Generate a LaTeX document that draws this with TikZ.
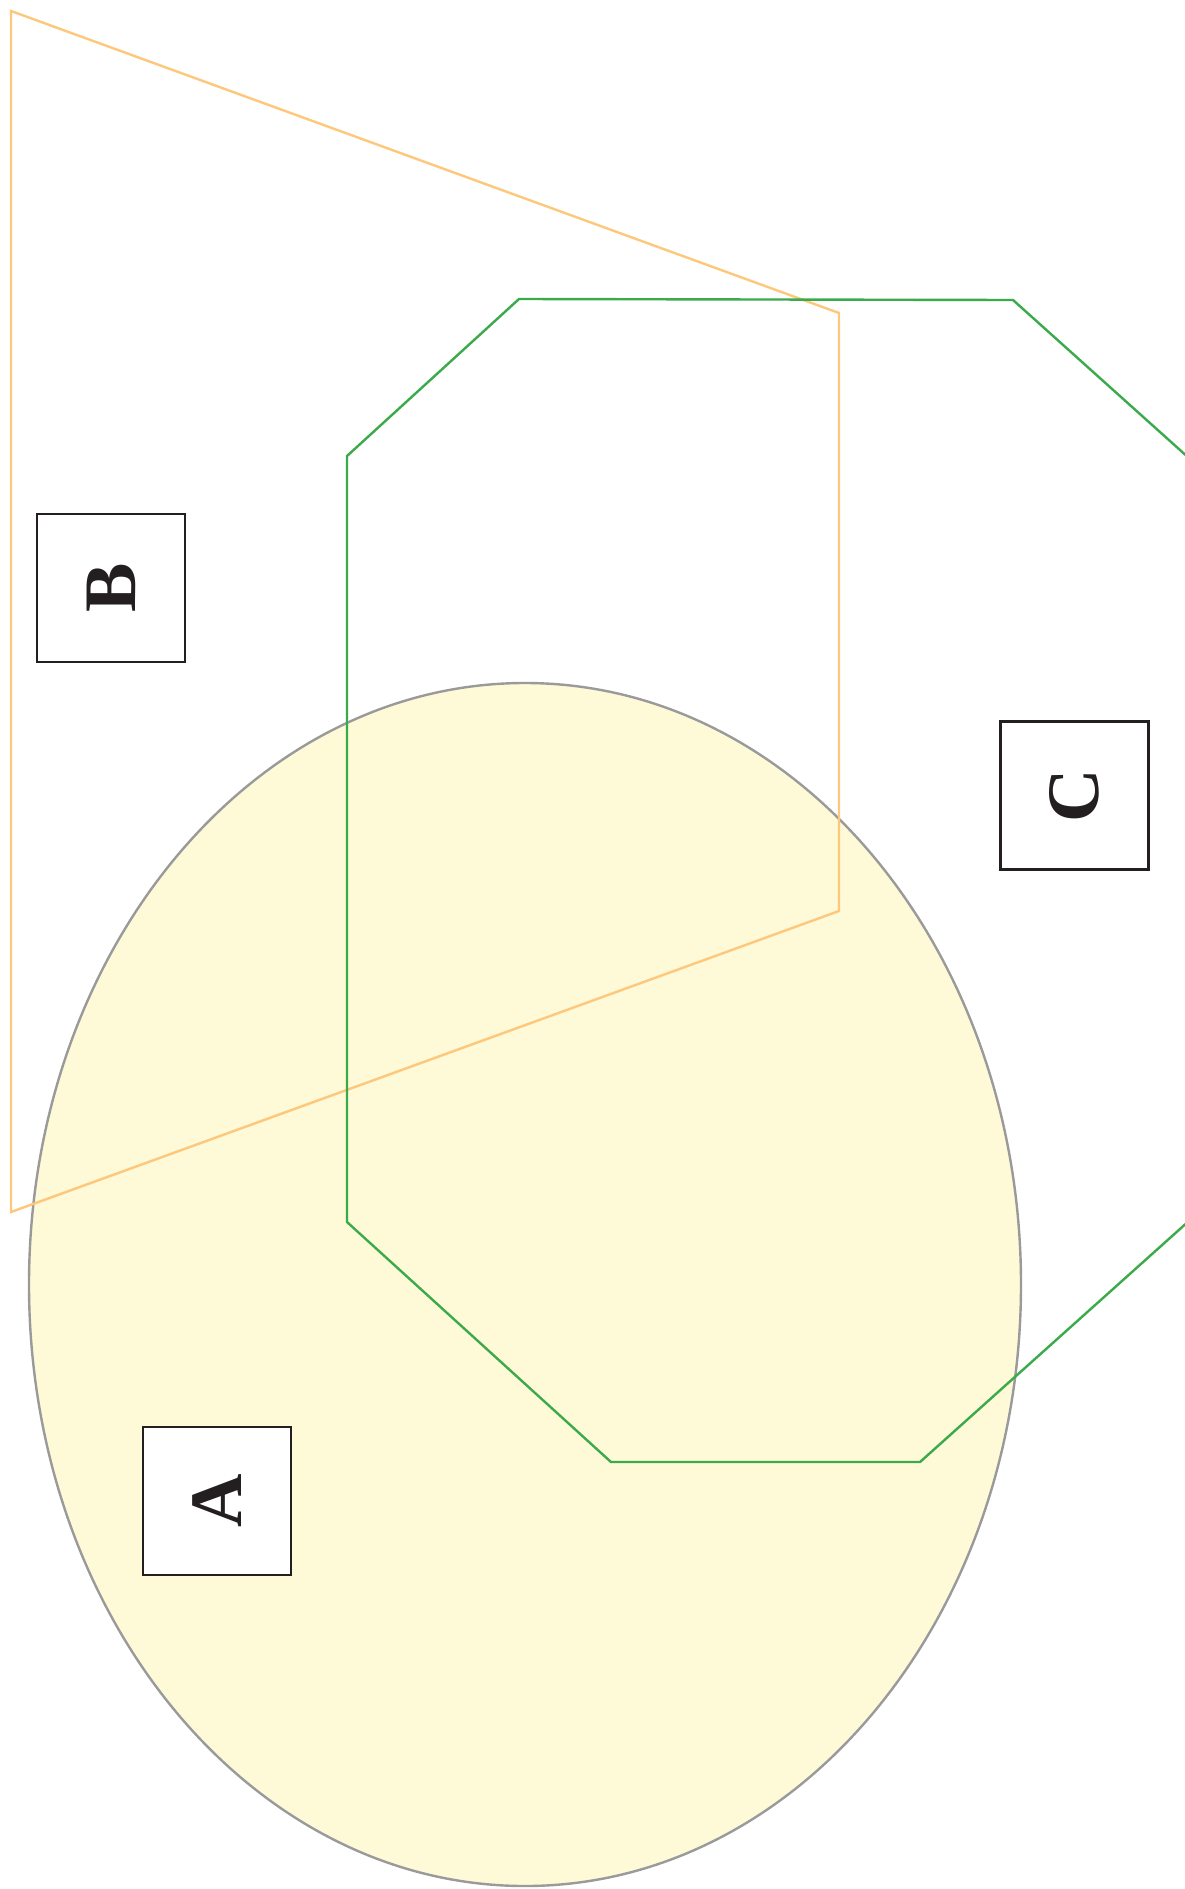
\documentclass[tikz,border=0pt]{standalone}
\usepackage{fontspec}
\setmainfont{Liberation Serif}
\definecolor{setfill}{HTML}{FEF9D7}
\definecolor{setedge}{HTML}{9A9A9A}
\definecolor{bline}{HTML}{FDC87C}
\definecolor{cline}{HTML}{3BAA4A}
\definecolor{boxline}{HTML}{231F20}
\tikzset{
  setlabel/.style={draw=boxline,line width=1.1pt,fill=white,minimum size=74pt,
    inner sep=0pt,rotate=90,font=\fontsize{37}{44}\selectfont\bfseries,text=boxline}
}

\begin{document}
\begin{tikzpicture}[x=0.5pt,y=-0.5pt]
  \useasboundingbox (0,0) rectangle (1184,1889);
  \draw[fill=setfill,draw=setedge,line width=1.2pt] (525,1284.5) ellipse (496 and 601.5);
  \draw[bline,line width=1.2pt,line join=miter] (11,11) -- (839,313) -- (839,911) -- (11,1212) -- cycle;
  \draw[cline,line width=1.2pt] (347,456) -- (519,299) -- (1013,300) -- (1190,459)
    -- (1190,1220) -- (920,1462) -- (611,1462) -- (347,1222) -- cycle;
  \node[setlabel] (B) at (111,588) {B};
  \node[setlabel] (C) at (1074.5,795.5) {C};
  \node[setlabel] (A) at (217,1501) {A};
\end{tikzpicture}
\end{document}
